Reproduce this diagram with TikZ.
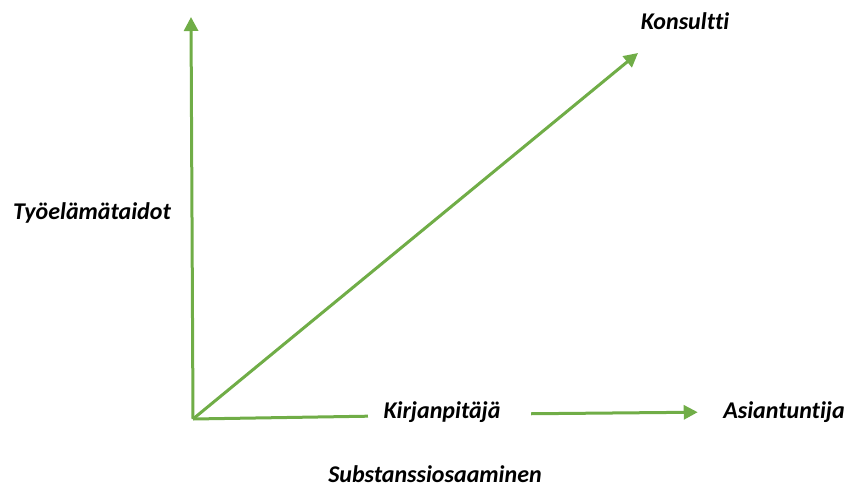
\documentclass[tikz,border=0pt]{standalone}
\usepackage{fontspec}
\setmainfont[Ligatures=NoCommon]{Carlito}
\usetikzlibrary{arrows.meta}
\definecolor{axisgreen}{RGB}{112,173,71}

\begin{document}
\begin{tikzpicture}[x=1pt,y=-1pt,
  every node/.style={font=\fontsize{24}{28}\selectfont\bfseries\itshape},
  axisline/.style={draw=axisgreen,line width=3pt},
  axisarrow/.style={axisline,-{Triangle[length=14pt,width=14pt]}}]
\useasboundingbox (0,0) rectangle (848,487);
% corner and free arrow ends
\coordinate (origin) at (193,419);
\coordinate (ytop) at (191,17);
\coordinate (dtop) at (638,53);
% labels
\node (konsultti) at (685,21) {Konsultti};
\node (tyoelama) at (92,213) {Työelämätaidot};
\node (kirjanpitaja) at (442,412) {Kirjanpitäjä};
\node (asiantuntija) at (784,412) {Asiantuntija};
\node (substanssi) at (435,474) {Substanssiosaaminen};
% axes
\draw[axisarrow] (origin) -- (ytop);
\draw[axisarrow] (origin) -- (dtop);
\draw[axisline,shorten >=12pt] (origin) -- ([yshift=-4pt]kirjanpitaja.west);
\draw[axisarrow,shorten <=27pt,shorten >=22pt] ([yshift=-2pt]kirjanpitaja.east) -- (asiantuntija.west);
\end{tikzpicture}
\end{document}
